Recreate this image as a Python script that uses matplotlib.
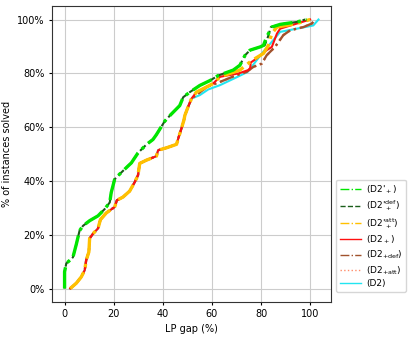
import matplotlib
matplotlib.use("Agg")
import matplotlib.pyplot as plt
from matplotlib.ticker import PercentFormatter

# curves: (LP gap %, % of instances solved)
d2p_x = [0, 0, 0.7, 2, 3.4, 4.8, 6.1, 7.5, 10.2, 13.6, 16.3, 18.4, 19, 20.4, 22.4, 25.8, 27.2,
         29.9, 33.3, 36, 37.4, 39.5, 40.8, 42.9, 46.9, 48.3, 51, 55.1, 59.2, 62.6, 68.7, 71.4,
         73.5, 75.5, 79.6, 81, 82.3, 84.4, 87.8, 94.6, 98.6]
d2p_y = [0, 6.2, 9.3, 10.4, 11.6, 16.5, 21.5, 23.3, 25.2, 27, 29.5, 32, 35.7, 40.6, 42.5, 45.5, 46.7,
         50.4, 53.5, 55.4, 57.2, 60.3, 62.2, 64.3, 68, 71.1, 73, 75.5, 77.3, 79.2, 81.2, 83,
         86.7, 88.6, 89.8, 90.4, 93.5, 97.2, 98.2, 99.1, 100]

d2p_def_x = [0, 0, 0.7, 2, 3.4, 4.8, 6.1, 7.5, 10.2, 13.6, 16.3, 18.4, 19, 20.4, 22.4, 25.8, 27.2,
             29.9, 33.3, 36, 37.4, 39.5, 40.8, 42.9, 46.9, 48.3, 51, 55.1, 59.2, 62.6, 68.7, 71.4,
             73.5, 75.5, 79.6, 81.5, 82.8, 84.0, 87.8, 94.6, 98.0]
d2p_def_y = d2p_y

low_x = [2.3, 4.8, 6.8, 8.2, 8.8, 9.9, 10.2, 11.6, 13.6, 14.6, 17, 20.4, 21.3, 23.8, 26.5, 28.6,
         29.9, 30.6, 33.3, 37.4, 38.1, 41.5, 45.6, 46.3, 47.6, 48.6, 49, 50.3, 51.7, 53.7]
low_y = [0, 2, 4.3, 6.8, 10.5, 13.6, 18.6, 20.4, 22.3, 25.6, 28.1, 30.3, 32.8, 34, 36.2, 39.6,
         42.1, 46.5, 47.7, 49.2, 51.4, 52.3, 53.6, 55.8, 59.5, 62.6, 64.4, 67.5, 70.6, 73]

d2p_att_x = low_x + [56.5, 60.5, 63.3, 71.4, 75.5, 77.6, 81, 83, 84.4, 86.5, 94.6, 100]
d2p_att_y = low_y + [74.3, 76.2, 78.7, 81.2, 84.2, 85.5, 87.4, 90.4, 94.8, 97.2, 98.5, 100]

d2plus_x = low_x + [56.5, 60.5, 63.3, 71, 74.8, 75.6, 75.8, 78.2, 82.3, 84.4, 86.5, 87.8, 94.6, 100]
d2plus_y = low_y + [74.3, 76.2, 78.7, 80, 81.2, 82, 84, 85.5, 88.6, 89.8, 94.8, 96.6, 98.5, 100]

d2plus_def_x = low_x[:-1] + [54.5, 58, 63.3, 70, 74.1, 76.9, 80.3, 82.3, 85.7, 89.1, 91.9, 97.3, 100.7, 102]
d2plus_def_y = low_y[:-1] + [72.5, 75, 76.8, 79.3, 80.5, 82.4, 83.6, 86.7, 89.8, 94.2, 96, 97.2, 98.5, 100]

d2plus_att_x = d2plus_def_x
d2plus_att_y = d2plus_def_y

d2_x = low_x[:-1] + [55.1, 58.5, 63.3, 70, 74.5, 77.5, 80.9, 84.4, 87.8, 94.6, 101.3, 103.4]
d2_y = low_y[:-1] + [71.9, 74, 75.6, 78.5, 80.5, 84, 88, 91.7, 95.4, 96.6, 97.8, 100]

series = [
    (d2p_x, d2p_y, r"(D2$'_+$)", "#00e600", "-.", 2.4),
    (d2p_def_x, d2p_def_y, r"(D2$'^{\rm def}_+$)", "#1a5e1a", "--", 1.5),
    (d2p_att_x, d2p_att_y, r"(D2$'^{\rm att}_+$)", "#ffc000", "-.", 2.4),
    (d2plus_x, d2plus_y, r"(D2$_+$)", "#ff1010", "-", 1.5),
    (d2plus_def_x, d2plus_def_y, r"(D2$_{+\rm def}$)", "#a0522d", "-.", 1.7),
    (d2plus_att_x, d2plus_att_y, r"(D2$_{+\rm att}$)", "#ff8c69", ":", 1.7),
    (d2_x, d2_y, r"(D2)", "#22e5f0", "-", 1.5),
]

plt.rcParams["font.size"] = 7
plt.rcParams["xtick.major.size"] = 2.5
plt.rcParams["ytick.major.size"] = 2.5
plt.rcParams["xtick.major.pad"] = 2.5
plt.rcParams["ytick.major.pad"] = 2.5

fig = plt.figure(figsize=(4.15, 3.37), dpi=100)
ax = fig.add_axes([0.125, 0.104, 0.673, 0.878])

# draw D2 first so the green/orange curves sit on top
for x, y, label, color, ls, lw in reversed(series):
    ax.plot(x, y, color=color, linestyle=ls, linewidth=lw, label=label)

ax.yaxis.set_major_formatter(PercentFormatter(decimals=0))
ax.set_xticks([0, 20, 40, 60, 80, 100])
ax.set_yticks([0, 20, 40, 60, 80, 100])
ax.grid(True, color="#cccccc", linewidth=0.8)
ax.set_axisbelow(True)
for s in ax.spines.values():
    s.set_color("#333333")
ax.set_xlabel("LP gap (%)")
ax.set_ylabel("% of instances solved")

handles, labels = ax.get_legend_handles_labels()
leg = ax.legend(handles[::-1], labels[::-1], loc="lower left", bbox_to_anchor=(1.018, 0.034),
                borderaxespad=0, fontsize=6.5, labelspacing=0.3, handlelength=2.3,
                handletextpad=0.6, borderpad=0.4)
for h in leg.legend_handles:
    h.set_linewidth(1.0)

fig.savefig("out.png", dpi=100)
